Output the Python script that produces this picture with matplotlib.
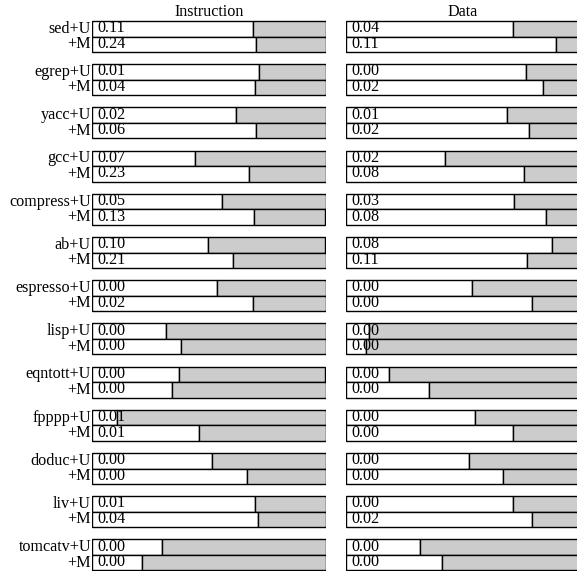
import numpy as np
import matplotlib
matplotlib.use("Agg")
import matplotlib.pyplot as plt

plt.rcParams['font.family'] = ['Liberation Serif', 'DejaVu Serif']

benchmarks = ["sed", "egrep", "yacc", "gcc", "compress", "ab", "espresso",
              "lisp", "eqntott", "fpppp", "doduc", "liv", "tomcatv"]

# fraction of each bar that is white (left part)
instr_u = [0.690, 0.715, 0.615, 0.443, 0.558, 0.495, 0.537, 0.318, 0.374, 0.108, 0.515, 0.700, 0.301]
instr_m = [0.704, 0.700, 0.704, 0.672, 0.695, 0.605, 0.690, 0.381, 0.344, 0.460, 0.664, 0.711, 0.215]
data_u = [0.714, 0.770, 0.691, 0.425, 0.720, 0.884, 0.540, 0.100, 0.186, 0.554, 0.525, 0.714, 0.318]
data_m = [0.898, 0.843, 0.782, 0.764, 0.858, 0.775, 0.797, 0.086, 0.357, 0.714, 0.671, 0.795, 0.413]

# numbers printed inside the bars
instr_u_lbl = ["0.11", "0.01", "0.02", "0.07", "0.05", "0.10", "0.00", "0.00", "0.00", "0.01", "0.00", "0.01", "0.00"]
instr_m_lbl = ["0.24", "0.04", "0.06", "0.23", "0.13", "0.21", "0.02", "0.00", "0.00", "0.01", "0.00", "0.04", "0.00"]
data_u_lbl = ["0.04", "0.00", "0.01", "0.02", "0.03", "0.08", "0.00", "0.00", "0.00", "0.00", "0.00", "0.00", "0.00"]
data_m_lbl = ["0.11", "0.02", "0.02", "0.08", "0.08", "0.11", "0.00", "0.00", "0.00", "0.00", "0.00", "0.02", "0.00"]

W, H = 577, 571
fig = plt.figure(figsize=(W / 100, H / 100), dpi=100)

top = 21.0
pitch = 43.2
bh = 15.5
fs = 11.6

def panel(x0, width, u, m, ul, ml, title, names):
    ax = fig.add_axes([x0 / W, 0, width / W, 1])
    ax.set_xlim(0, 1)
    ax.set_ylim(H, 0)
    ax.axis('off')
    n = len(u)
    yu = top + pitch * np.arange(n) + bh / 2
    ym = yu + bh
    for y, fr, lbl in [(yu, u, ul), (ym, m, ml)]:
        fr = np.array(fr)
        ax.barh(y, fr, height=bh, left=0, color='white', edgecolor='black', linewidth=1.0, zorder=2)
        ax.barh(y, 1 - fr, height=bh, left=fr, color='#cccccc', edgecolor='black', linewidth=1.0, zorder=2)
        for yy, t in zip(y, lbl):
            ax.text(5 / width, yy - 0.5, t, fontsize=fs, ha='left', va='center', zorder=3)
    ax.text(0.5, 12, title, fontsize=fs, ha='center', va='center')
    if names is not None:
        for yy, name in zip(yu, names):
            ax.text(-1 / width, yy, name + "+U", fontsize=fs, ha='right', va='center', clip_on=False)
        for yy in ym:
            ax.text(-1 / width, yy, "+M", fontsize=fs, ha='right', va='center', clip_on=False)
    return ax

panel(92, 233.5, instr_u, instr_m, instr_u_lbl, instr_m_lbl, "Instruction", benchmarks)
panel(346, 233.5, data_u, data_m, data_u_lbl, data_m_lbl, "Data", None)

fig.savefig("out.png", dpi=100)
